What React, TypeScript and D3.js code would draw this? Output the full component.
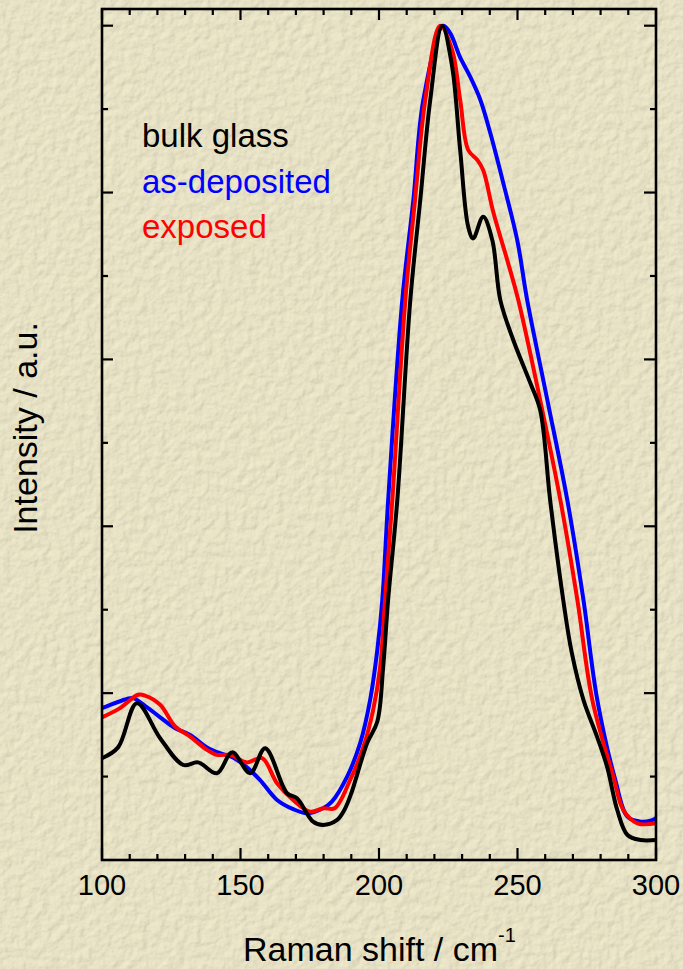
import React from "react";
import * as d3 from "d3";

// ---- data (Raman shift in cm^-1, normalised intensity) ----
const bulkX = [100, 105.8, 112.6, 121, 129.3, 134.7, 141.5, 147, 153.5, 158.9, 166.8, 170.4, 176.2, 179.8, 184.9, 187.5, 190, 195.7, 199.4, 201.5, 203.3, 206.6, 211.3, 214.9, 218.5, 222.8, 226.4, 229.3, 232.2, 234, 237.6, 240.9, 243.8, 248.5, 254.6, 258.2, 261.8, 266.5, 269.5, 273.8, 278.8, 282.4, 286, 289.7, 294.4, 300];
const bulkY = [0.122, 0.135, 0.188, 0.146, 0.114, 0.117, 0.104, 0.129, 0.104, 0.134, 0.080, 0.074, 0.046, 0.042, 0.048, 0.060, 0.080, 0.140, 0.166, 0.231, 0.312, 0.431, 0.671, 0.791, 0.911, 1.0, 0.951, 0.851, 0.759, 0.745, 0.771, 0.743, 0.671, 0.623, 0.572, 0.539, 0.431, 0.312, 0.250, 0.192, 0.147, 0.111, 0.060, 0.030, 0.024, 0.024];

const depX = [100, 109, 111.2, 116.3, 121, 126.4, 131.8, 137.9, 142.6, 147.3, 152.3, 157, 163.2, 169, 174, 179.8, 183, 188.5, 193.2, 196.8, 199.4, 201.2, 203.3, 208.4, 212.4, 216, 223.2, 225.7, 229.3, 232.9, 236.6, 240.2, 244.9, 249.9, 253.5, 260.8, 268, 273.8, 278.8, 285.3, 289.7, 294.4, 298, 300];
const depY = [0.182, 0.193, 0.194, 0.183, 0.171, 0.158, 0.150, 0.135, 0.128, 0.123, 0.111, 0.096, 0.072, 0.061, 0.056, 0.062, 0.070, 0.100, 0.140, 0.192, 0.252, 0.312, 0.431, 0.671, 0.791, 0.911, 1.0, 0.991, 0.962, 0.939, 0.911, 0.871, 0.811, 0.743, 0.671, 0.551, 0.431, 0.312, 0.192, 0.096, 0.052, 0.046, 0.047, 0.050];

const expX = [100, 106.5, 113, 115.5, 121, 126.4, 131.8, 137.9, 141.5, 146.2, 152.3, 157.8, 163.2, 169, 175.1, 180, 184, 189.6, 194.3, 197.9, 200.4, 202.2, 204.8, 209.5, 213, 216.7, 222.1, 226.4, 229.3, 232.2, 235.5, 237.6, 241.3, 246.3, 250.3, 258.2, 265.5, 271.6, 277, 284.6, 288.2, 293.3, 300];
const expY = [0.171, 0.182, 0.198, 0.197, 0.186, 0.160, 0.148, 0.132, 0.126, 0.126, 0.117, 0.122, 0.092, 0.072, 0.058, 0.062, 0.062, 0.096, 0.135, 0.180, 0.231, 0.312, 0.431, 0.671, 0.791, 0.911, 1.0, 0.971, 0.911, 0.851, 0.839, 0.827, 0.776, 0.719, 0.671, 0.551, 0.431, 0.312, 0.192, 0.100, 0.060, 0.044, 0.044];

const seriesNames = ["bulk glass", "as-deposited", "exposed"];
const seriesColors = ["#000000", "#0000ff", "#ff0000"];
const xMajorTicks = [100, 150, 200, 250, 300];
const yMajorTicks = [0.2, 0.4, 0.6, 0.8, 1.0];
const xLabel = "Raman shift / cm";
const yLabel = "Intensity / a.u.";

const W = 683, H = 969;
const L = 102, R = 656, T = 9, B = 860;
const FONT = "'Liberation Sans', Arial, sans-serif";

export default function App() {
  const x = d3.scaleLinear().domain([100, 300]).range([L, R]);
  const y = d3.scaleLinear().domain([0, 1.02]).range([B, T]);
  const line = d3
    .line<[number, number]>()
    .x((d) => x(d[0]))
    .y((d) => y(d[1]))
    .curve(d3.curveCatmullRom.alpha(0.5));

  const zip = (a: number[], b: number[]) => a.map((v, i) => [v, b[i]] as [number, number]);
  const bulk = zip(bulkX, bulkY);
  const dep = zip(depX, depY);
  const exp = zip(expX, expY);

  const xMinor = d3.range(100, 301, 10).filter((v) => !xMajorTicks.includes(v));
  const yMinor = d3.range(0.1, 1.01, 0.2);

  const tickStroke = { stroke: "#000", strokeWidth: 2.2 };

  return (
    <svg width={W} height={H} style={{ position: "absolute", left: 0, top: 0 }}>
      <defs>
        <filter id="paper" x="0" y="0" width="100%" height="100%" colorInterpolationFilters="sRGB">
          <feTurbulence type="fractalNoise" baseFrequency="0.11" numOctaves="3" seed="7" result="noise" />
          <feDiffuseLighting in="noise" lightingColor="#f6f0d2" surfaceScale="0.8" diffuseConstant="1" result="lit">
            <feDistantLight azimuth="225" elevation="70" />
          </feDiffuseLighting>
        </filter>
      </defs>
      <rect x={0} y={0} width={W} height={H} fill="#e6e0c3" />
      <rect x={0} y={0} width={W} height={H} filter="url(#paper)" opacity={0.8} />

      {/* curves */}
      <path d={line(dep) || ""} fill="none" stroke={seriesColors[1]} strokeWidth={4} strokeLinejoin="round" />
      <path d={line(exp) || ""} fill="none" stroke={seriesColors[2]} strokeWidth={4} strokeLinejoin="round" />
      <path d={line(bulk) || ""} fill="none" stroke={seriesColors[0]} strokeWidth={4} strokeLinejoin="round" />

      {/* frame */}
      <rect x={L} y={T} width={R - L} height={B - T} fill="none" stroke="#000" strokeWidth={2.6} />

      {/* x ticks */}
      {xMajorTicks.map((v) => (
        <g key={"xm" + v}>
          <line x1={x(v)} x2={x(v)} y1={B} y2={B - 12} {...tickStroke} />
          <line x1={x(v)} x2={x(v)} y1={T} y2={T + 11} {...tickStroke} />
          <text x={x(v)} y={895} textAnchor="middle" fontFamily={FONT} fontSize={29} fill="#000">
            {v}
          </text>
        </g>
      ))}
      {xMinor.map((v) => (
        <g key={"xn" + v}>
          <line x1={x(v)} x2={x(v)} y1={B} y2={B - 6} {...tickStroke} />
          <line x1={x(v)} x2={x(v)} y1={T} y2={T + 6} {...tickStroke} />
        </g>
      ))}

      {/* y ticks */}
      {yMajorTicks.map((v) => (
        <g key={"ym" + v}>
          <line x1={L} x2={L + 11} y1={y(v)} y2={y(v)} {...tickStroke} />
          <line x1={R} x2={R - 12} y1={y(v)} y2={y(v)} {...tickStroke} />
        </g>
      ))}
      {yMinor.map((v) => (
        <g key={"yn" + v}>
          <line x1={L} x2={L + 6} y1={y(v)} y2={y(v)} {...tickStroke} />
          <line x1={R} x2={R - 6} y1={y(v)} y2={y(v)} {...tickStroke} />
        </g>
      ))}

      {/* axis titles */}
      <text x={243} y={961} fontFamily={FONT} fontSize={34} fill="#000">
        {xLabel}
        <tspan dy={-19} fontSize={20}>-1</tspan>
      </text>
      <text
        transform={`translate(37, 428) rotate(-90)`}
        textAnchor="middle"
        fontFamily={FONT}
        fontSize={34}
        fill="#000"
      >
        {yLabel}
      </text>

      {/* legend */}
      {seriesNames.map((n, i) => (
        <text key={n} x={142} y={[147, 193, 238][i]} fontFamily={FONT} fontSize={33} fill={seriesColors[i]}>
          {n}
        </text>
      ))}
    </svg>
  );
}
